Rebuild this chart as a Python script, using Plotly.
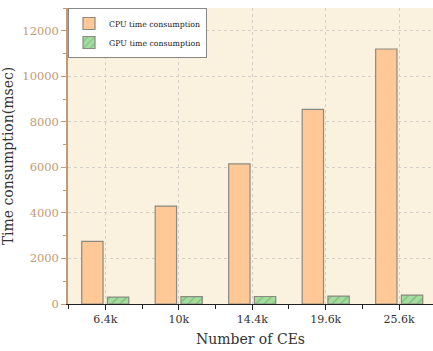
import plotly.graph_objects as go

categories = ["6.4k", "10k", "14.4k", "19.6k", "25.6k"]
cpu_time = [2750, 4300, 6150, 8550, 11200]
gpu_time = [300, 320, 330, 350, 390]

xpos = list(range(len(categories)))

fig = go.Figure()
fig.add_trace(go.Bar(
    x=xpos, y=cpu_time, name="CPU time consumption",
    marker=dict(color="#FFC896", line=dict(color="#8a8a80", width=1.2)),
))
fig.add_trace(go.Bar(
    x=xpos, y=gpu_time, name="GPU time consumption",
    marker=dict(color="#A6DCA0", line=dict(color="#8a8a80", width=1.2),
                pattern=dict(shape="/", fgcolor="#5aa85a", bgcolor="#A6DCA0", size=6, solidity=0.25)),
))

tan = "#C49A74"
serif = "DejaVu Serif"
fig.update_layout(
    width=433, height=351,
    margin=dict(l=68, r=0, t=8, b=47),
    paper_bgcolor="white", plot_bgcolor="#FBF1DF",
    barmode="group", bargap=0.3, bargroupgap=0.17,
    font=dict(family=serif, color="#333333"),
    legend=dict(x=0.0, y=1.0, xanchor="left", yanchor="top",
                bgcolor="white", bordercolor="#888888", borderwidth=1,
                font=dict(size=7.8, family=serif, color="#222"),
                itemwidth=30, tracegroupgap=0),
    xaxis=dict(
        range=[-0.507, 4.46], tickmode="array", tickvals=xpos, ticktext=categories,
        ticks="outside", ticklen=5, tickcolor="#222", showline=True, linecolor="#222", linewidth=1,
        showgrid=True, gridcolor="#d4d0c8", griddash="dot", gridwidth=1,
        tickfont=dict(size=11, family=serif, color="#333"),
        title=dict(text="Number of CEs", font=dict(size=14, family=serif, color="#333"), standoff=8),
        minor=dict(tickmode="array", tickvals=[-0.5, 0.5, 1.5, 2.5, 3.5], ticks="outside", ticklen=4, tickcolor="#222", showgrid=False),
        zeroline=False,
    ),
    yaxis=dict(
        range=[0, 13000], tickmode="linear", tick0=0, dtick=2000, tickformat="d",
        ticks="outside", ticklen=5, tickcolor=tan, showline=True, linecolor=tan, linewidth=1.5,
        showgrid=True, gridcolor="#d4d0c8", griddash="dot", gridwidth=1,
        tickfont=dict(size=11.5, family=serif, color=tan),
        title=dict(text="Time consumption(msec)", font=dict(size=14, family=serif, color="#333"), standoff=6),
        minor=dict(dtick=1000, ticks="outside", ticklen=3, tickcolor=tan, showgrid=False),
        zeroline=False,
    ),
)
fig.write_html("out.html", config={"displayModeBar": False},
               post_script="document.body.style.margin='0';document.body.style.overflow='hidden';")
